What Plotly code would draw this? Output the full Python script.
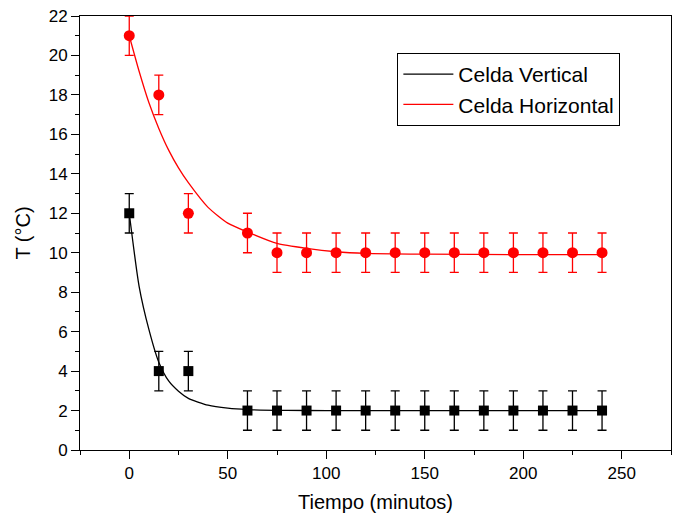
import plotly.graph_objects as go

# Measured data
time_min = [0, 15, 30, 60, 75, 90, 105, 120, 135, 150, 165, 180, 195, 210, 225, 240]
t_vertical = [12, 4, 4, 2, 2, 2, 2, 2, 2, 2, 2, 2, 2, 2, 2, 2]
t_horizontal = [21, 18, 12, 11, 10, 10, 10, 10, 10, 10, 10, 10, 10, 10, 10, 10]
err_vertical = [1] * 16
err_horizontal = [1] * 16

# Fitted curves
fit_v_x = [0, 5, 10, 15, 20, 25, 30, 40, 50, 60, 80, 100, 150, 200, 240]
fit_v_y = [12.0, 8.3, 6.1, 4.45, 3.5, 2.98, 2.62, 2.27, 2.12, 2.05, 2.01, 2.0, 2.0, 2.0, 2.0]
fit_h_x = [0, 5, 10, 15, 20, 25, 30, 40, 50, 60, 75, 90, 105, 120, 150, 200, 240]
fit_h_y = [21.0, 19.2, 17.6, 16.3, 15.2, 14.3, 13.55, 12.3, 11.5, 11.05, 10.47, 10.22, 10.05, 9.97, 9.93, 9.9, 9.9]

fig = go.Figure()

fig.add_trace(go.Scatter(x=fit_v_x, y=fit_v_y, mode="lines", name="Celda Vertical",
                         line=dict(color="black", width=1.3, shape="spline", smoothing=0.6)))
fig.add_trace(go.Scatter(x=fit_h_x, y=fit_h_y, mode="lines", name="Celda Horizontal",
                         line=dict(color="red", width=1.3, shape="spline", smoothing=0.6)))

fig.add_trace(go.Scatter(x=time_min, y=t_vertical, mode="markers", showlegend=False,
                         marker=dict(symbol="square", size=10, color="black"),
                         error_y=dict(type="data", array=err_vertical, visible=True,
                                      color="black", thickness=1.3, width=4.5)))
fig.add_trace(go.Scatter(x=time_min, y=t_horizontal, mode="markers", showlegend=False,
                         marker=dict(symbol="circle", size=11, color="red"),
                         error_y=dict(type="data", array=err_horizontal, visible=True,
                                      color="red", thickness=1.3, width=4.5)))

fig.update_layout(
    width=674, height=520, autosize=False,
    margin=dict(l=80, r=3, t=16, b=70),
    paper_bgcolor="white", plot_bgcolor="white",
    font=dict(family="Liberation Sans, Arial, sans-serif", color="black"),
    legend=dict(x=0.537, y=0.915, xanchor="left", yanchor="top",
                bordercolor="black", borderwidth=1, bgcolor="white",
                font=dict(size=21), tracegroupgap=0, itemwidth=50),
)

fig.update_xaxes(
    range=[-25, 275], tickvals=[0, 50, 100, 150, 200, 250], automargin=False,
    showgrid=False, zeroline=False, showline=True, linecolor="black", linewidth=1,
    mirror=True, ticks="outside", ticklen=8, tickcolor="black",
    minor=dict(tickvals=[-25, 25, 75, 125, 175, 225, 275], ticks="outside", ticklen=4, tickcolor="black"),
    tickfont=dict(size=17),
    title=dict(text="Tiempo (minutos)", font=dict(size=20), standoff=12),
)
fig.update_yaxes(
    range=[0, 22], tickvals=list(range(0, 23, 2)), automargin=False,
    showgrid=False, zeroline=False, showline=True, linecolor="black", linewidth=1,
    mirror=True, ticks="outside", ticklen=8, tickcolor="black",
    minor=dict(tickvals=list(range(1, 22, 2)), ticks="outside", ticklen=4, tickcolor="black"),
    tickfont=dict(size=17),
    title=dict(text="T (°C)", font=dict(size=20), standoff=12),
)

fig.write_html("out.html", config={"responsive": False, "displayModeBar": False},
               post_script="document.body.style.margin='0px';document.body.style.overflow='hidden';")
